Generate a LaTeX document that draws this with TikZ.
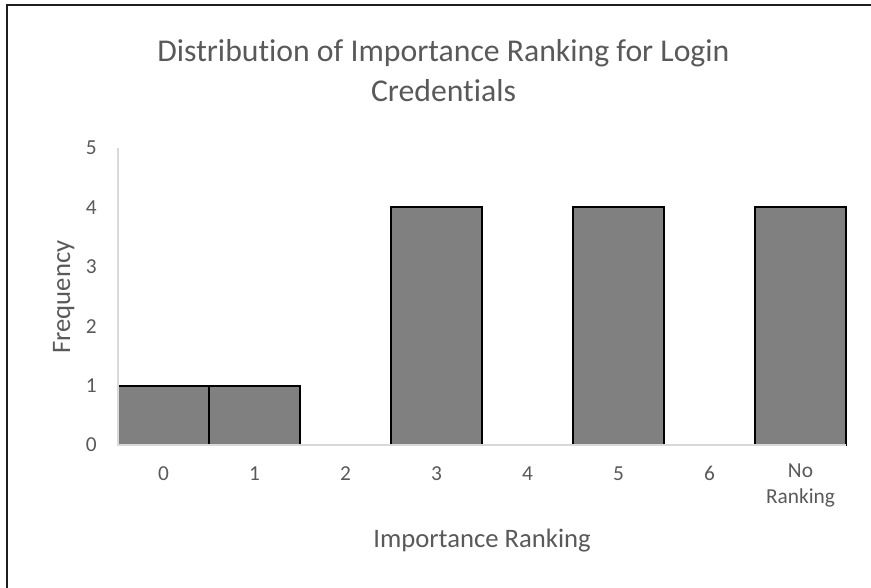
\documentclass[tikz,border=0pt]{standalone}
\usepackage{fontspec}
\setmainfont{Carlito}[Ligatures={NoCommon}]
\usepackage{xcolor}
\definecolor{labelgray}{RGB}{89,89,89}
\definecolor{axisgray}{RGB}{217,217,217}
\definecolor{barfill}{RGB}{128,128,128}
\tikzset{
  tick label/.style={inner sep=0pt, text=labelgray, font=\fontsize{16}{19.5}\selectfont},
  axis title/.style={inner sep=0pt, text=labelgray, font=\fontsize{20}{24}\selectfont},
  chart title/.style={inner sep=0pt, text=labelgray, font=\fontsize{23.8}{30}\selectfont},
  bar/.style={fill=barfill, draw=black, line width=1.4pt},
}
\begin{document}
\begin{tikzpicture}[x=0.75pt,y=0.75pt,yscale=-1,xscale=1]
    \useasboundingbox (0,0) rectangle (871,588);

    %Chart frame (only top and left edges are in view)
    \draw [color={rgb, 255:red, 30; green, 30; blue, 30 }, line width=0.9pt]  (7,600) -- (7,5) -- (880,5) ;

    %Bars
    \draw [bar]  (118,445) rectangle (209,385.6) ;
    \draw [bar]  (209,445) rectangle (300,385.6) ;
    \draw [bar]  (391,445) rectangle (482,207.4) ;
    \draw [bar]  (573,445) rectangle (664,207.4) ;
    \draw [bar]  (755,445) rectangle (846,207.4) ;

    %Axes
    \draw [color=axisgray, line width=0.9pt]  (118,148) -- (118,445) -- (846,445) ;

    % Title
    \node (title) at (443.5,62) [chart title, anchor=base] {Distribution of Importance Ranking for Login};
    \node (titlecont) at (443.5,102) [chart title, anchor=base] {Credentials};

    % Y tick labels
    \node (y0) at (97,445) [tick label, anchor=east] {0};
    \node (y1) at (97,385.6) [tick label, anchor=east] {1};
    \node (y2) at (97,326.2) [tick label, anchor=east] {2};
    \node (y3) at (97,266.8) [tick label, anchor=east] {3};
    \node (y4) at (97,207.4) [tick label, anchor=east] {4};
    \node (y5) at (97,148) [tick label, anchor=east] {5};

    % X tick labels
    \node (x0) at (163.5,480) [tick label, anchor=base] {0};
    \node (x1) at (254.5,480) [tick label, anchor=base] {1};
    \node (x2) at (345.5,480) [tick label, anchor=base] {2};
    \node (x3) at (436.5,480) [tick label, anchor=base] {3};
    \node (x4) at (527.5,480) [tick label, anchor=base] {4};
    \node (x5) at (618.5,480) [tick label, anchor=base] {5};
    \node (x6) at (709.5,480) [tick label, anchor=base] {6};
    \node (xnr) at (800.5,464) [tick label, anchor=north, align=center] {No\\Ranking};

    % Axis titles
    \node (xtitle) at (482,547) [axis title, anchor=base] {Importance Ranking};
    \node (ytitle) at (70,297) [axis title, anchor=base, rotate=90] {Frequency};
\end{tikzpicture}
\end{document}
